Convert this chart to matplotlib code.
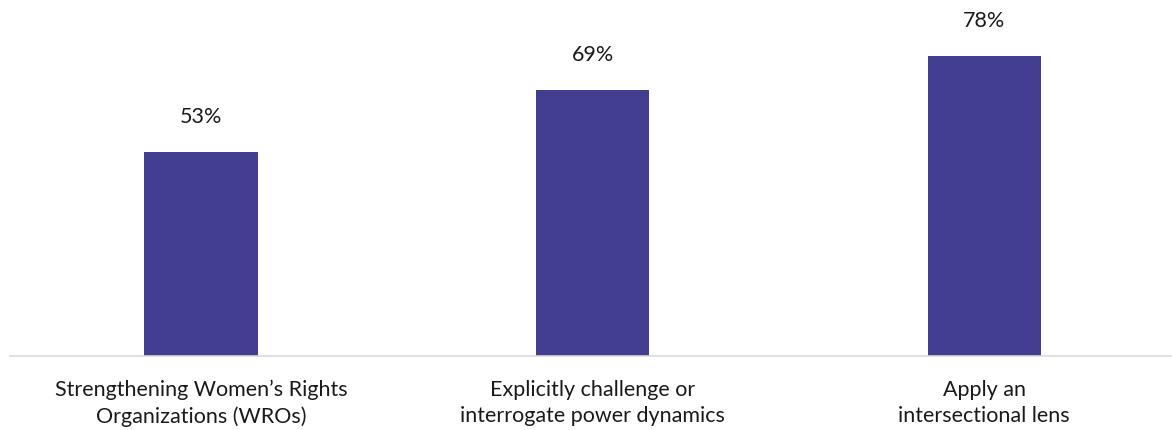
import matplotlib
matplotlib.use("Agg")
import matplotlib.pyplot as plt

categories = ["Strengthening Women\u2019s Rights\nOrganizations (WROs)",
              "Explicitly challenge or\ninterrogate power dynamics",
              "Apply an\nintersectional lens"]
values = [53, 69, 78]
value_labels = ["53%", "69%", "78%"]

plt.rcParams['font.family'] = ['Lato', 'DejaVu Sans']

fig = plt.figure(figsize=(11.72, 4.30), dpi=100)
ax = fig.add_axes([10/1172, 74/430, 1162/1172, 345/430])
x = list(range(len(categories)))
bars = ax.bar(x, values, width=0.289, color="#433E8F", zorder=2)
ax.set_xlim(-0.488, 2.48)
ax.set_ylim(0, 89.6)
for xi, v, lab in zip(x, values, value_labels):
    ax.annotate(lab, (xi, v), xytext=(0, 18), textcoords="offset points",
                ha="center", va="bottom", fontsize=15.5, color="#1a1a1a")
ax.set_xticks(x)
ax.set_xticklabels(categories, fontsize=15.5, color="#1a1a1a", linespacing=1.38)
ax.tick_params(axis="x", length=0, pad=17)
ax.set_yticks([])
for s in ["top", "right", "left"]:
    ax.spines[s].set_visible(False)
ax.spines["bottom"].set_color("#D9D9D9")
ax.spines["bottom"].set_linewidth(1.2)
fig.savefig("out.png", dpi=100)
